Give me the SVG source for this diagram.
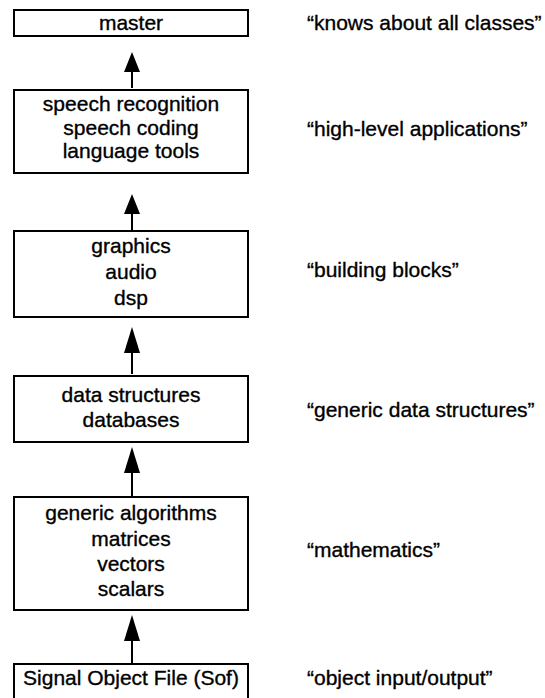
<svg xmlns="http://www.w3.org/2000/svg" width="545" height="698" viewBox="0 0 545 698">
<style>
  .box { fill: #fff; stroke: #000; stroke-width: 2; }
  .t { font-family: "Liberation Sans", Arial, Helvetica, sans-serif; font-size: 21px; fill: #000; stroke: #000; stroke-width: 0.35; }
  .c { text-anchor: middle; }
  .shaft { stroke: #000; stroke-width: 2; fill: none; }
  .head { fill: #000; }
</style>
<rect width="545" height="698" fill="#fff"/>
<g id="connectors">
  <line class="shaft" x1="132" y1="88" x2="132" y2="66"/>
  <polygon class="head" points="132,52 124,72 140,72"/>
  <line class="shaft" x1="132" y1="230" x2="132" y2="208"/>
  <polygon class="head" points="132,194 124,214 140,214"/>
  <line class="shaft" x1="132" y1="374" x2="132" y2="345"/>
  <polygon class="head" points="132,327 124,353 140,353"/>
  <line class="shaft" x1="132" y1="496" x2="132" y2="466"/>
  <polygon class="head" points="132,447 124,473 140,473"/>
  <line class="shaft" x1="132" y1="663" x2="132" y2="633"/>
  <polygon class="head" points="132,615 124,641 140,641"/>
</g>
<g id="master">
  <rect class="box" x="14" y="10" width="234" height="26"/>
  <text class="t c" x="131" y="30">master</text>
</g>
<g id="applications">
  <rect class="box" x="14" y="90" width="234" height="83"/>
  <text class="t c" x="131" y="111">speech recognition</text>
  <text class="t c" x="131" y="135">speech coding</text>
  <text class="t c" x="131" y="158">language tools</text>
</g>
<g id="building">
  <rect class="box" x="14" y="231" width="234" height="86"/>
  <text class="t c" x="131" y="253">graphics</text>
  <text class="t c" x="131" y="279">audio</text>
  <text class="t c" x="131" y="305">dsp</text>
</g>
<g id="data">
  <rect class="box" x="14" y="376" width="234" height="66"/>
  <text class="t c" x="131" y="402">data structures</text>
  <text class="t c" x="131" y="427">databases</text>
</g>
<g id="math">
  <rect class="box" x="14" y="497" width="234" height="113"/>
  <text class="t c" x="131" y="520">generic algorithms</text>
  <text class="t c" x="131" y="546">matrices</text>
  <text class="t c" x="131" y="571">vectors</text>
  <text class="t c" x="131" y="596">scalars</text>
</g>
<g id="sof">
  <rect class="box" x="14" y="664" width="234" height="40"/>
  <text class="t c" x="131" y="685">Signal Object File (Sof)</text>
</g>
<g id="labels">
  <text class="t" x="307" y="30">“knows about all classes”</text>
  <text class="t" x="307" y="136">“high-level applications”</text>
  <text class="t" x="307" y="277">“building blocks”</text>
  <text class="t" x="307" y="417">“generic data structures”</text>
  <text class="t" x="307" y="557">“mathematics”</text>
  <text class="t" x="307" y="685">“object input/output”</text>
</g>
</svg>
